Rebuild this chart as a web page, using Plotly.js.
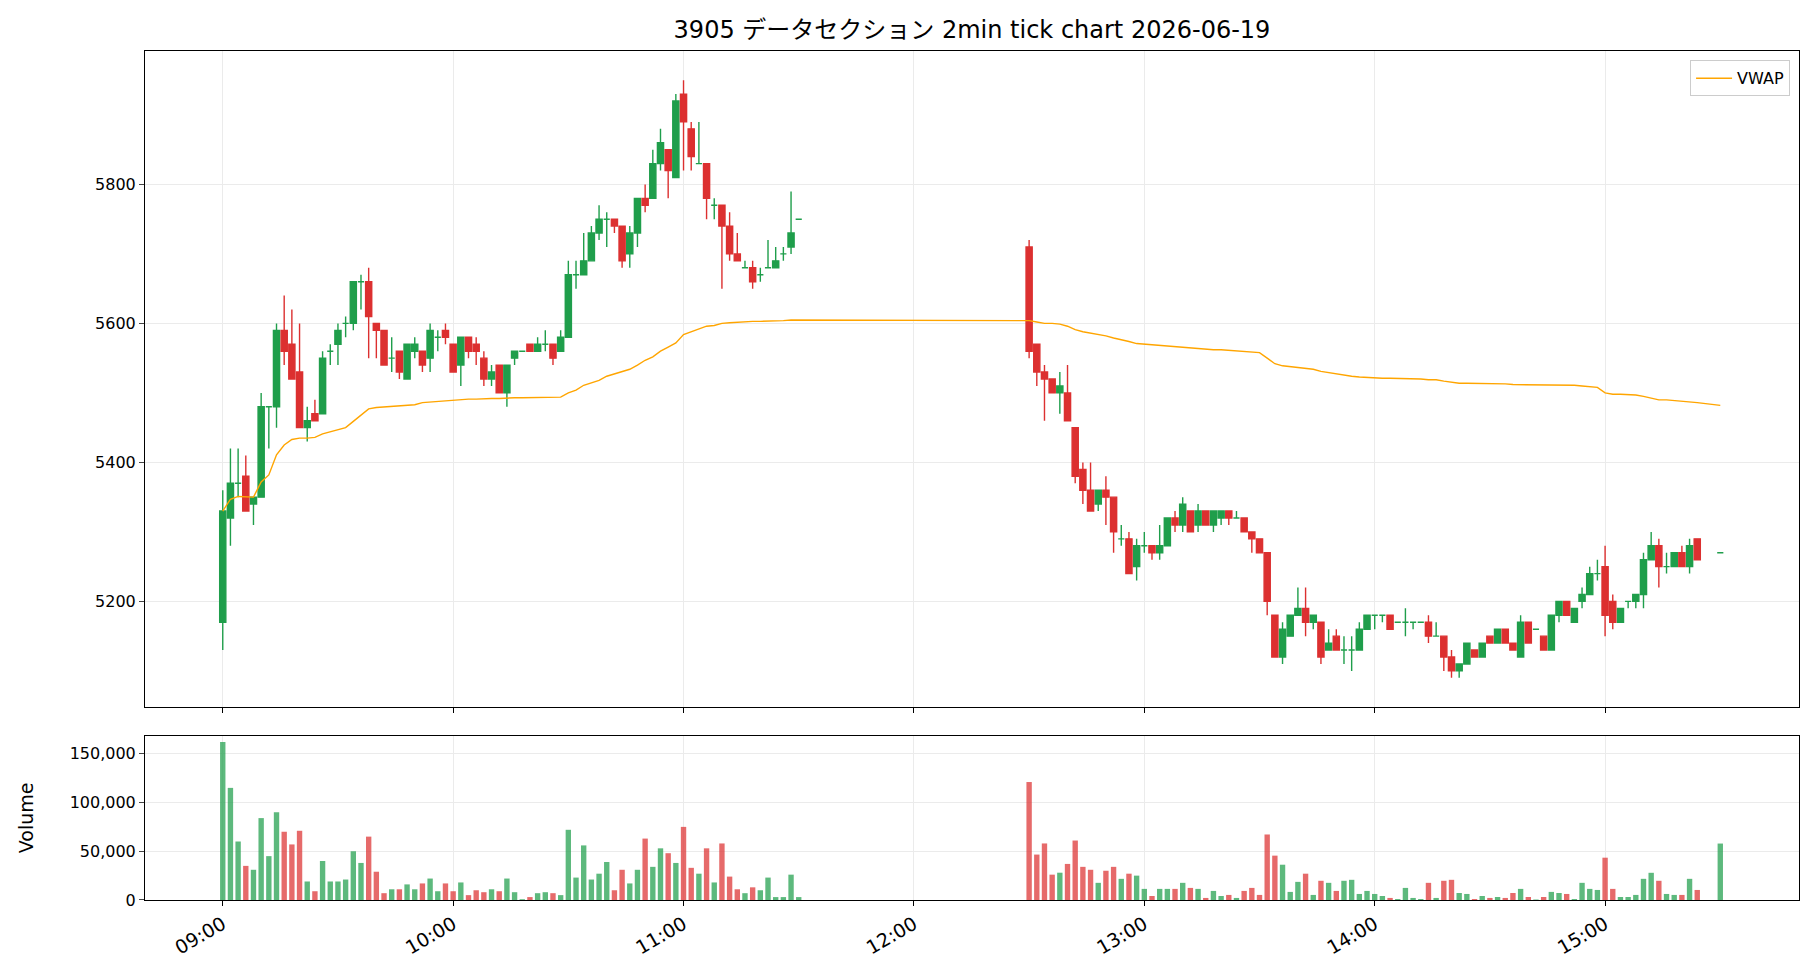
<!DOCTYPE html>
<html><head><meta charset="utf-8">
<script src="https://cdn.plot.ly/plotly-3.0.1.min.js"></script>
<style>body{margin:0;background:#fff}#chart{width:1820px;height:980px}</style>
</head><body><div id="chart"></div>
<script>
const DAY = "2026-06-19 ";
const amTimes = ["09:00","09:02","09:04","09:06","09:08","09:10","09:12","09:14","09:16","09:18","09:20","09:22","09:24","09:26","09:28","09:30","09:32","09:34","09:36","09:38","09:40","09:42","09:44","09:46","09:48","09:50","09:52","09:54","09:56","09:58",
"10:00","10:02","10:04","10:06","10:08","10:10","10:12","10:14","10:16","10:18","10:20","10:22","10:24","10:26","10:28","10:30","10:32","10:34","10:36","10:38","10:40","10:42","10:44","10:46","10:48","10:50","10:52","10:54","10:56","10:58",
"11:00","11:02","11:04","11:06","11:08","11:10","11:12","11:14","11:16","11:18","11:20","11:22","11:24","11:26","11:28","11:30"];
const pmTimes = ["12:30","12:32","12:34","12:36","12:38","12:40","12:42","12:44","12:46","12:48","12:50","12:52","12:54","12:56","12:58",
"13:00","13:02","13:04","13:06","13:08","13:10","13:12","13:14","13:16","13:18","13:20","13:22","13:24","13:26","13:28","13:30","13:32","13:34","13:36","13:38","13:40","13:42","13:44","13:46","13:48","13:50","13:52","13:54","13:56","13:58",
"14:00","14:02","14:04","14:06","14:08","14:10","14:12","14:14","14:16","14:18","14:20","14:22","14:24","14:26","14:28","14:30","14:32","14:34","14:36","14:38","14:40","14:42","14:44","14:46","14:48","14:50","14:52","14:54","14:56","14:58",
"15:00","15:02","15:04","15:06","15:08","15:10","15:12","15:14","15:16","15:18","15:20","15:22","15:24","15:30"];

const amOpen  = [5170,5320,5370,5380,5340,5350,5480,5480,5590,5570,5530,5450,5470,5470,5560,5570,5600,5600,5660,5660,5600,5590,5550,5560,5520,5560,5560,5550,5580,5590,5570,5540,5580,5570,5550,5520,5540,5500,5550,5560,5570,5560,5570,5570,5560,5580,5670,5670,5690,5730,5750,5750,5740,5700,5730,5780,5780,5830,5850,5810,5930,5880,5830,5830,5770,5770,5740,5700,5680,5680,5670,5680,5680,5700,5710,5750];
const amHigh  = [5360,5420,5420,5410,5350,5500,5480,5600,5640,5620,5600,5480,5490,5560,5570,5600,5610,5660,5670,5680,5600,5590,5580,5560,5570,5580,5560,5600,5590,5600,5570,5580,5580,5580,5560,5540,5540,5540,5560,5560,5570,5580,5590,5570,5590,5690,5690,5730,5740,5770,5760,5750,5740,5740,5780,5800,5850,5880,5850,5930,5950,5890,5890,5830,5780,5770,5760,5730,5690,5690,5680,5720,5710,5710,5790,5750];
const amLow   = [5130,5280,5350,5330,5310,5350,5420,5450,5540,5520,5450,5430,5460,5470,5540,5540,5580,5590,5620,5550,5550,5540,5530,5520,5520,5550,5530,5530,5560,5570,5530,5510,5550,5540,5510,5510,5500,5480,5540,5560,5560,5560,5560,5540,5560,5580,5650,5670,5690,5720,5710,5730,5680,5680,5710,5760,5780,5820,5780,5810,5820,5820,5830,5750,5750,5650,5690,5690,5680,5650,5660,5680,5680,5690,5700,5750];
const amClose = [5330,5370,5370,5330,5350,5480,5480,5590,5560,5520,5450,5460,5460,5550,5560,5590,5600,5660,5660,5610,5590,5540,5550,5530,5570,5570,5540,5590,5580,5580,5530,5580,5560,5560,5520,5530,5500,5540,5560,5560,5560,5570,5570,5550,5580,5670,5670,5690,5730,5750,5750,5740,5690,5730,5780,5770,5830,5860,5820,5920,5890,5840,5830,5780,5770,5740,5700,5690,5680,5660,5670,5680,5690,5700,5730,5750];
const amVolume = [162000,115000,60000,35000,31000,84000,45000,90000,70000,57000,71000,19000,9000,40000,19000,19000,21000,50000,38000,65000,29000,7000,11000,11000,16000,11000,17000,22000,9000,17000,9000,18000,5000,10000,8000,11000,9000,22000,8000,800,3000,7000,8000,7000,5000,72000,23000,56000,21000,27000,39000,10000,31000,17000,31000,63000,34000,53000,48000,38000,75000,33000,27000,53000,18000,58000,24000,11000,7000,13000,10000,23000,3000,3000,26000,3000];
const amVwap = [5330,5347,5351,5350,5350,5372,5382,5411,5425,5433,5435,5435,5436,5441,5444,5446,5450,5459,5468,5477,5479,5480,5480,5481,5482,5483,5486,5487,5488,5489,5490,5490,5491,5491,5492,5492,5492,5493,5493,5493,5493,5493,5494,5494,5494,5500,5504,5511,5514,5518,5524,5527,5530,5534,5540,5547,5552,5560,5566,5572,5584,5588,5592,5596,5597,5600,5601,5602,5602,5603,5603,5603,5604,5604,5605,5605];

const pmOpen  = [5710,5570,5530,5520,5500,5500,5450,5390,5360,5340,5360,5350,5290,5290,5250,5280,5280,5270,5280,5320,5310,5330,5310,5330,5310,5320,5330,5320,5320,5300,5290,5270,5180,5120,5150,5180,5190,5170,5170,5130,5150,5130,5130,5130,5160,5180,5180,5180,5170,5170,5170,5170,5170,5150,5150,5120,5100,5110,5130,5120,5150,5140,5160,5140,5120,5170,5160,5150,5130,5180,5200,5170,5200,5210,5240,5250,5200,5170,5200,5200,5210,5260,5280,5250,5250,5270,5250,5290,5270];
const pmHigh  = [5720,5570,5540,5520,5530,5540,5450,5400,5400,5360,5380,5350,5310,5300,5290,5300,5280,5310,5320,5330,5350,5330,5340,5330,5330,5330,5330,5330,5320,5300,5290,5270,5180,5170,5180,5220,5220,5180,5170,5160,5160,5150,5150,5170,5180,5180,5180,5180,5170,5190,5170,5170,5180,5170,5150,5130,5110,5140,5130,5140,5150,5160,5160,5140,5180,5170,5160,5150,5180,5200,5200,5190,5220,5250,5260,5280,5210,5190,5200,5210,5270,5300,5290,5270,5270,5280,5290,5290,5270];
const pmLow   = [5550,5510,5460,5500,5470,5460,5370,5340,5330,5330,5310,5270,5280,5240,5230,5270,5260,5260,5280,5300,5300,5300,5300,5310,5300,5310,5310,5320,5300,5270,5270,5180,5120,5110,5150,5180,5150,5160,5110,5130,5130,5110,5100,5130,5160,5160,5170,5160,5170,5150,5160,5170,5140,5150,5100,5090,5090,5110,5120,5120,5140,5140,5140,5130,5120,5140,5160,5130,5130,5170,5180,5170,5190,5210,5230,5150,5160,5170,5190,5190,5190,5260,5220,5240,5250,5250,5240,5260,5270];
const pmClose = [5560,5530,5520,5500,5510,5460,5380,5360,5330,5360,5350,5300,5290,5240,5280,5280,5270,5280,5320,5310,5340,5300,5330,5310,5330,5330,5320,5320,5300,5290,5270,5200,5120,5160,5180,5190,5170,5180,5120,5140,5130,5130,5130,5160,5180,5180,5180,5160,5170,5170,5170,5170,5150,5150,5120,5100,5110,5140,5120,5140,5140,5160,5140,5130,5170,5140,5160,5130,5180,5200,5180,5190,5210,5240,5240,5180,5170,5190,5200,5210,5260,5280,5250,5250,5270,5250,5280,5260,5270];
const pmVolume = [121000,46600,58000,26000,28000,37000,61000,34000,31000,17600,30000,34000,21700,27000,25000,11400,4100,11400,11400,11400,17600,12400,11400,2100,9300,4100,5200,2100,9300,12400,5200,67200,45500,36200,8300,18600,27000,5200,19700,17600,9300,19700,20700,6200,9300,6200,4100,2100,1000,12400,2100,1000,17600,2100,19700,20700,7200,6200,1000,4100,2100,3100,2100,7200,11400,3100,500,3100,8300,7200,6200,1000,17600,11400,10300,43400,11400,3100,3100,5200,21700,27900,19700,6200,5200,5200,21700,10300,57900];
const pmVwap = [5604,5602,5600,5600,5599,5596,5591,5588,5586,5585,5582,5579,5577,5574,5571,5570,5569,5568,5567,5566,5565,5565,5564,5563,5562,5562,5561,5561,5560,5559,5558,5550,5542,5539,5538,5537,5535,5534,5531,5529,5528,5526,5524,5523,5522,5521,5521,5521,5521,5520,5520,5520,5519,5519,5517,5515,5514,5514,5514,5513,5513,5513,5513,5512,5512,5512,5512,5512,5511,5511,5511,5511,5510,5509,5508,5500,5498,5498,5498,5497,5495,5492,5490,5490,5489,5489,5487,5486,5482];

const xTickVals = ["09:00","10:00","11:00","12:00","13:00","14:00","15:00"];
const titleText = "3905 データセクション 2min tick chart 2026-06-19";

// assemble
const times = amTimes.concat(pmTimes).map(t => DAY + t);
const O = amOpen.concat(pmOpen), H = amHigh.concat(pmHigh), L = amLow.concat(pmLow), C = amClose.concat(pmClose);
const V = amVolume.concat(pmVolume), VW = amVwap.concat(pmVwap);

const GREEN = "#1f9e4b", RED = "#dc3030";
const GREEN_V = "rgba(31,158,75,0.72)", RED_V = "rgba(220,48,48,0.72)";

function pick(cond) {
  const idx = times.map((t, i) => i).filter(i => cond(i));
  return {
    x: idx.map(i => times[i]), open: idx.map(i => O[i]), high: idx.map(i => H[i]),
    low: idx.map(i => L[i]), close: idx.map(i => C[i])
  };
}
const up = pick(i => C[i] >= O[i]);
const dn = pick(i => C[i] < O[i]);

const candleUp = Object.assign({type: "candlestick", xaxis: "x", yaxis: "y", showlegend: false, hoverinfo: "skip",
  increasing: {line: {color: GREEN, width: 1.4}, fillcolor: GREEN},
  decreasing: {line: {color: GREEN, width: 1.4}, fillcolor: GREEN}, whiskerwidth: 0}, up);
const candleDn = Object.assign({type: "candlestick", xaxis: "x", yaxis: "y", showlegend: false, hoverinfo: "skip",
  increasing: {line: {color: RED, width: 1.4}, fillcolor: RED},
  decreasing: {line: {color: RED, width: 1.4}, fillcolor: RED}, whiskerwidth: 0}, dn);

const vwapTrace = {type: "scatter", mode: "lines", x: times, y: VW, name: "VWAP", xaxis: "x", yaxis: "y",
  line: {color: "#FFA500", width: 1.4}, hoverinfo: "skip"};

const volTrace = {type: "bar", x: times, y: V, xaxis: "x2", yaxis: "y2", showlegend: false, hoverinfo: "skip",
  marker: {color: times.map((t, i) => C[i] >= O[i] ? GREEN_V : RED_V), line: {width: 0}},
  width: 84000};

const tickvals = xTickVals.map(t => DAY + t);
const gridc = "#ebebeb";
const FAM = "DejaVu Sans, Noto Sans CJK JP, sans-serif";
const font = {family: FAM, size: 16, color: "#000"};

const xCommon = {type: "date", range: [DAY + "08:39:45", DAY + "15:50:30"], tickvals: tickvals, ticktext: xTickVals,
  showgrid: true, gridcolor: gridc, gridwidth: 1, zeroline: false, showline: true, linecolor: "#000", linewidth: 1,
  mirror: true, ticks: "outside", ticklen: 5, tickcolor: "#000", rangeslider: {visible: false}};

const layout = {
  width: 1820, height: 980, paper_bgcolor: "#fff", plot_bgcolor: "#fff", font: font,
  margin: {l: 145, r: 21, t: 51, b: 80},
  title: {text: titleText, x: 0.5, xref: "paper", xanchor: "center", y: 1 - 30/980, yanchor: "middle", yref: "container",
    font: {family: FAM, size: 24, color: "#000"}},
  boxgap: 0.2, boxgroupgap: 0,
  showlegend: true,
  legend: {x: 0.9946, y: 0.989, xanchor: "right", yanchor: "top", bgcolor: "rgba(255,255,255,0.9)",
    bordercolor: "#cccccc", borderwidth: 1, font: {size: 16}, itemwidth: 36, tracegroupgap: 0},
  xaxis: Object.assign({}, xCommon, {anchor: "y", showticklabels: false}),
  xaxis2: Object.assign({}, xCommon, {anchor: "y2", matches: "x", showticklabels: true, tickangle: -30,
    tickfont: {size: 19}}),
  yaxis: {domain: [0.2273, 1], range: [5048, 5992], tickvals: [5200, 5400, 5600, 5800], showgrid: true, gridcolor: gridc,
    zeroline: false, showline: true, linecolor: "#000", linewidth: 1, mirror: true, ticks: "outside", ticklen: 5,
    tickfont: {size: 16}},
  yaxis2: {domain: [0, 0.1935], range: [0, 168500], tickvals: [0, 50000, 100000, 150000], tickformat: ",d",
    showgrid: true, gridcolor: gridc, zeroline: false, showline: true, linecolor: "#000", linewidth: 1, mirror: true,
    ticks: "outside", ticklen: 5, tickfont: {size: 16},
    title: {text: "Volume", font: {size: 19}, standoff: 30}}
};

Plotly.newPlot("chart", [candleUp, candleDn, vwapTrace, volTrace], layout, {displayModeBar: false, staticPlot: true});
</script></body></html>
